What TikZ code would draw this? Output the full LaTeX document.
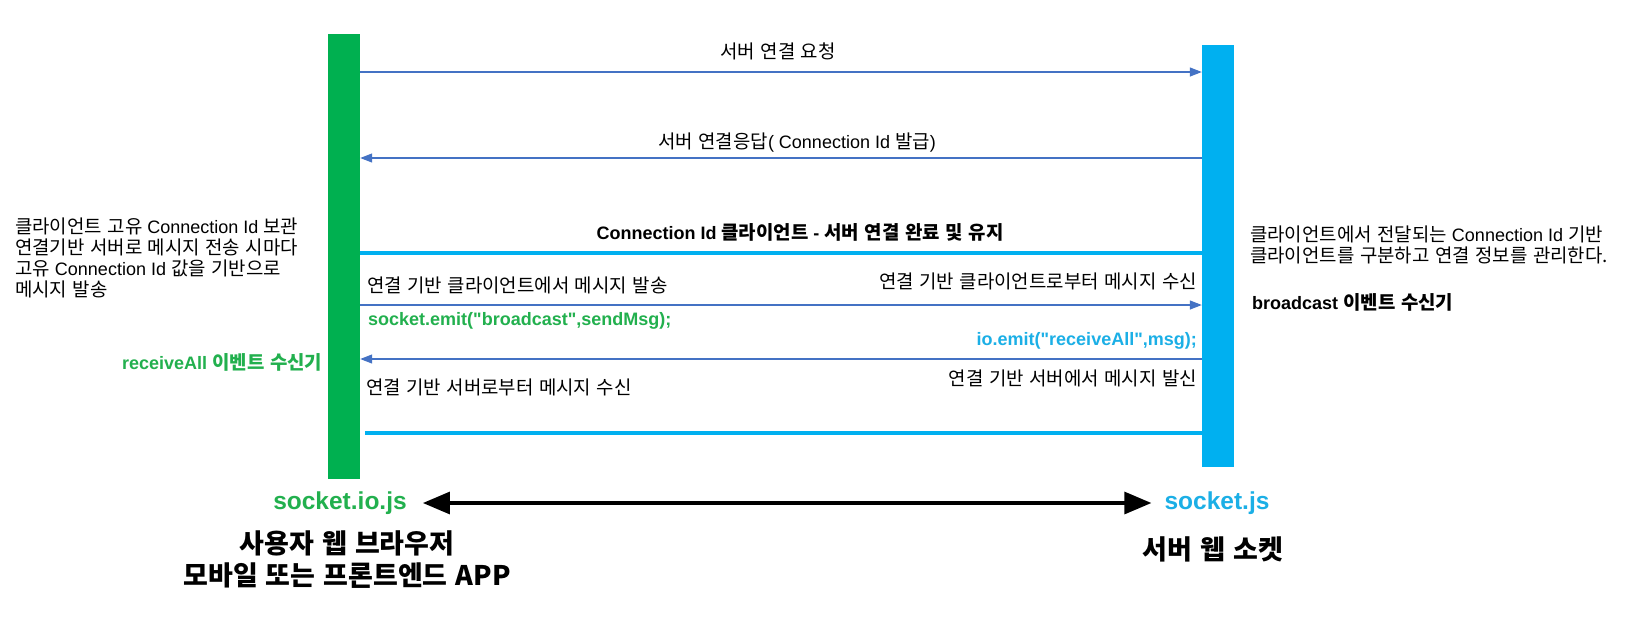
\documentclass[tikz,border=0pt]{standalone}
\usepackage{fontspec}
\setmainfont{Liberation Sans}
\newfontfamily\code{Liberation Sans}
\newfontfamily\kr{Noto Sans CJK KR}[Scale=1.05, WordSpace=1.3]
\usetikzlibrary{arrows.meta}
\definecolor{gbarc}{HTML}{00B050}
\definecolor{bbarc}{HTML}{00B0F0}
\definecolor{arrowc}{HTML}{4472C4}
\definecolor{gtext}{HTML}{22B04E}
\definecolor{btext}{HTML}{1BAFE6}
\begin{document}
\begin{tikzpicture}[x=1pt,y=-1pt,
  bar/.style={draw=none, inner sep=0pt, minimum width=32pt},
  msg/.style={draw=arrowc, line width=1.2pt, -{Triangle[length=12pt,width=9pt]}},
  link/.style={draw=bbarc, line width=4.5pt},
  lbl/.style={inner sep=0pt, font=\fontsize{18}{21}\selectfont},
  lblb/.style={inner sep=0pt, font=\fontsize{18}{21}\selectfont\bfseries},
  big/.style={inner sep=0pt, font=\fontsize{24.5}{28}\selectfont\bfseries},
  bigkr/.style={inner sep=0pt, font=\kr\fontsize{25.7}{32}\selectfont\bfseries, align=center},
  both/.style={line width=3.2pt, {Triangle[length=27pt,width=22pt]}-{Triangle[length=27pt,width=22pt]}}
]
\useasboundingbox[fill=white] (0,0) rectangle (1649,630);

% lifelines
\node[bar, fill=gbarc, minimum height=445pt] (gbar) at (344,256.5) {};
\node[bar, fill=bbarc, minimum height=422pt] (bbar) at (1218,256) {};

\coordinate (y1) at (0,72);
\coordinate (y2) at (0,158);
\coordinate (y3) at (0,253);
\coordinate (y4) at (0,305);
\coordinate (y5) at (0,359);
\coordinate (y6) at (0,433);

\draw[msg] (gbar.east |- y1) -- (bbar.west |- y1);
\draw[msg] (bbar.west |- y2) -- (gbar.east |- y2);
\draw[link] (gbar.east |- y3) -- (bbar.west |- y3);
\draw[msg] (gbar.east |- y4) -- (bbar.west |- y4);
\draw[msg] (bbar.west |- y5) -- (gbar.east |- y5);
\draw[link, shorten <=5pt] (gbar.east |- y6) -- (bbar.west |- y6);

% message labels
\node[lbl] (t1) at (778,51) {\kr 서버 연결 요청};
\node[lbl] (t2) at (797,143) {{\kr 서버 연결응답}( Connection Id {\kr 발급})};
\node[lblb] (t3) at (800,232) {Connection Id {\kr 클라이언트} - {\kr 서버 연결 완료 및 유지}};
\node[lbl, anchor=west] (t4) at (367,285) {\kr 연결 기반 클라이언트에서 메시지 발송};
\node[lbl, anchor=east] (t5) at (1197,281) {\kr 연결 기반 클라이언트로부터 메시지 수신};
\node[lblb, anchor=west, text=gtext] (t6) at (368,321) {\code socket.emit("broadcast",sendMsg);};
\node[lblb, anchor=east, text=btext] (t7) at (1197,341) {\code io.emit("receiveAll",msg);};
\node[lbl, anchor=east] (t8) at (1197,378) {\kr 연결 기반 서버에서 메시지 발신};
\node[lbl, anchor=west] (t9) at (366,387) {\kr 연결 기반 서버로부터 메시지 수신};

% side notes
\node[lbl, anchor=north west, align=left] (lnote) at (15,218)
  {{\kr 클라이언트 고유} Connection Id {\kr 보관}\\
   {\kr 연결기반 서버로 메시지 전송 시마다}\\
   {\kr 고유} Connection Id {\kr 값을 기반으로}\\
   {\kr 메시지 발송}};
\node[lblb, anchor=west, text=gtext] (ra) at (122,362) {receiveAll {\kr 이벤트 수신기}};
\node[lbl, anchor=north west, align=left] (rnote) at (1250,226)
  {{\kr 클라이언트에서 전달되는} Connection Id {\kr 기반}\\
   {\kr 클라이언트를 구분하고 연결 정보를 관리한다.}};
\node[lblb, anchor=west] (bc) at (1252,302) {broadcast {\kr 이벤트 수신기}};

% bottom
\node[big, text=gtext] (sio) at (340,503) {socket.io.js};
\node[big, text=btext] (sjs) at (1217,503) {socket.js};
\draw[both, shorten <=16pt, shorten >=13pt] (sio.east) -- (sjs.west |- sio.east);
\node[bigkr] (cl) at (347,560) {사용자 웹 브라우저\\모바일 또는 프론트엔드 APP};
\node[bigkr] (sv) at (1213,549) {서버 웹 소켓};
\end{tikzpicture}
\end{document}
